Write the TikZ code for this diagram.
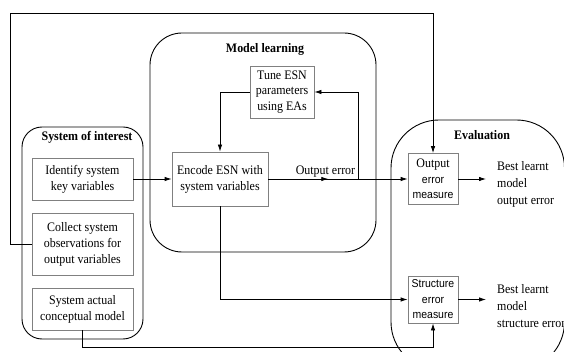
\documentclass[tikz,border=0pt]{standalone}
\usepackage{fontspec}
\setmainfont{Liberation Serif}[FakeStretch=0.92]
\setsansfont{Liberation Sans}[FakeStretch=0.92]
\usetikzlibrary{arrows.meta,decorations.markings}

\tikzset{
  group/.style={draw, line width=0.9pt, rounded corners=#1},
  box/.style={draw=black!50, line width=0.8pt, align=center, inner sep=2pt,
    font=\fontsize{13}{16}\selectfont},
  sbox/.style={box, font=\sffamily\fontsize{11.4}{15.5}\selectfont},
  title/.style={font=\bfseries\fontsize{13}{14}\selectfont},
  conn/.style={line width=0.8pt, -{Latex[length=7pt,width=4.5pt]}},
  result/.style={align=left, anchor=west, inner xsep=11pt, inner ysep=0pt,
    font=\fontsize{13}{17}\selectfont},
}

\begin{document}
\begin{tikzpicture}[x=1pt,y=-1pt]
\clip (0,0) rectangle (564,352); % adjust bounding box

% groups
\draw[group=20] (22,127) rectangle (143,339);
\draw[group=32] (150,33) rectangle (376,252);
\draw[group=48] (391,120) rectangle (564.5,370);
\node[title] (soi) at (87,137) {System of interest};
\node[title] (ml) at (265,49) {Model learning};
\node[title] (ev) at (482,135) {Evaluation};

% boxes
\node[box, minimum width=101pt, minimum height=42pt] (identify) at (82.5,179) {Identify system\\key variables};
\node[box, minimum width=101pt, minimum height=62pt] (collect) at (82.5,244) {Collect system\\observations for\\output variables};
\node[box, minimum width=101pt, minimum height=42pt] (actual) at (82.5,309) {System actual\\conceptual model};
\node[box, minimum width=96pt, minimum height=54pt] (encode) at (220,179) {Encode ESN with\\system variables};
\node[box, minimum width=64pt, minimum height=52pt, font=\fontsize{13}{15.5}\selectfont] (tune) at (282,92) {Tune ESN\\parameters\\using EAs};
\node[sbox, minimum width=50pt, minimum height=51pt] (outm) at (433,179) {{\rmfamily\fontsize{13}{15.5}\selectfont Output}\\error\\measure};
\node[sbox, minimum width=50pt, minimum height=47pt] (strm) at (433,299.5) {Structure\\error\\measure};
\node[result] (outres) at (486,184) {Best learnt\\model\\output error};
\node[result] (strres) at (486,306) {Best learnt\\model\\structure error};

% connectors
\coordinate (fb) at (358,179);
\coordinate (topleft) at (10,13);
\coordinate (bot) at (82.5,347);
\draw[conn] (identify) -- (encode);
\draw[conn, postaction={decorate},
  decoration={markings, mark=at position 0.43 with {\arrow{Latex[length=7pt,width=4.5pt]}}}]
     (encode.east)
  -- node[pos=0.41, above, inner sep=1.5pt, font=\fontsize{13}{14}\selectfont]{Output error}
     (outm.west);
\draw[conn] (fb) |- (tune.east);
\draw[conn] (tune.west) -| (encode.north);
\draw[conn] (collect.west) -| (topleft) -| (outm.north);
\draw[conn] (encode.south) |- (strm.west);
\draw[conn] (actual.south) -- (bot) -| (strm.south);
\draw[conn] (outm.east) -- (outm.east -| outres.west);
\draw[conn] (strm.east) -- (strm.east -| strres.west);
\end{tikzpicture}
\end{document}
